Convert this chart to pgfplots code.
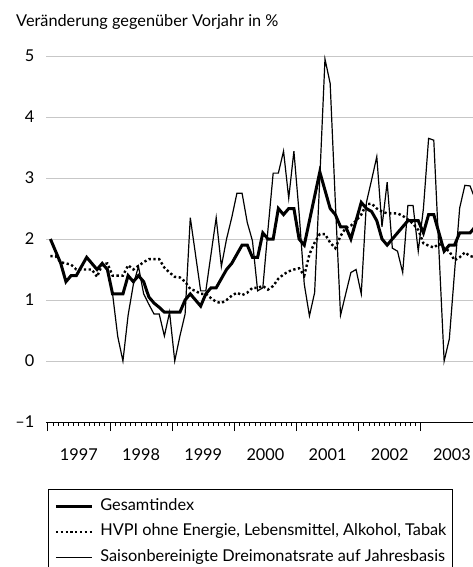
\documentclass[border=0pt]{standalone}
\usepackage{fontspec}
\setmainfont{Lato}
\usepackage{pgfplots}
\usepackage{pgfplotstable}
\pgfplotsset{compat=1.18}
\newcommand{\chartfont}{\fontsize{16.3bp}{19bp}\selectfont}

\pgfplotstableread{
i ges core saison
0 2.0 1.72 nan
1 1.8 1.72 nan
2 1.6 1.62 nan
3 1.3 1.60 nan
4 1.4 1.58 nan
5 1.4 1.50 nan
6 1.55 1.50 nan
7 1.7 1.50 nan
8 1.6 1.50 nan
9 1.5 1.38 nan
10 1.6 1.58 nan
11 1.5 1.60 nan
12 1.1 1.40 1.1
13 1.1 1.40 0.4
14 1.1 1.40 0.0
15 1.4 1.57 0.75
16 1.3 1.50 1.25
17 1.4 1.56 1.55
18 1.3 1.62 1.1
19 1.05 1.67 0.93
20 0.95 1.67 0.77
21 0.88 1.67 0.77
22 0.8 1.53 0.41
23 0.8 1.45 0.8
24 0.8 1.38 0.0
25 0.8 1.37 0.41
26 1.0 1.30 0.77
27 1.1 1.18 2.35
28 1.0 1.15 1.75
29 0.9 1.10 1.15
30 1.1 1.10 1.15
31 1.2 1.03 1.75
32 1.2 0.97 2.35
33 1.35 0.95 1.55
34 1.5 1.00 2.0
35 1.6 1.07 2.35
36 1.75 1.12 2.75
37 1.9 1.08 2.75
38 1.9 1.12 2.27
39 1.7 1.20 1.97
40 1.7 1.20 1.15
41 2.1 1.23 1.2
42 2.0 1.17 2.16
43 2.0 1.23 3.08
44 2.5 1.35 3.08
45 2.4 1.42 3.44
46 2.5 1.47 2.67
47 2.5 1.50 3.44
48 2.0 1.52 2.43
49 1.9 1.40 1.26
50 2.3 1.75 0.74
51 2.7 1.94 1.12
52 3.1 2.08 3.0
53 2.8 2.08 4.95
54 2.5 1.94 4.55
55 2.4 1.85 2.6
56 2.2 2.05 0.75
57 2.2 2.18 1.1
58 2.0 2.22 1.45
59 2.3 2.30 1.5
60 2.6 2.40 1.1
61 2.5 2.57 2.6
62 2.45 2.58 2.97
63 2.3 2.50 3.35
64 2.0 2.45 2.2
65 1.9 2.42 2.93
66 2.0 2.42 1.85
67 2.1 2.42 1.8
68 2.2 2.38 1.45
69 2.3 2.32 2.55
70 2.3 2.25 2.55
71 2.3 2.15 1.8
72 2.1 1.93 2.5
73 2.4 1.89 3.65
74 2.4 1.86 3.62
75 2.1 1.92 1.8
76 1.8 1.85 0.0
77 1.9 1.80 0.36
78 1.9 1.65 1.45
79 2.1 1.70 2.51
80 2.1 1.78 2.88
81 2.1 1.72 2.87
82 2.2 1.70 2.65
}\datatable

\begin{document}
\chartfont
\begin{tikzpicture}
\path[use as bounding box] (-46bp,-145bp) rectangle (427bp,422bp);
\begin{axis}[
  at={(0,0)}, anchor=south west,
  scale only axis, width=427bp, height=372.1bp,
  xmin=-0.85, xmax=81.57, ymin=-1, ymax=5.1,
  clip=true,
  axis x line*=bottom, axis y line*=left,
  y axis line style={draw=none},
  x axis line style={line width=0.9bp},
  ytick={-1,0,1,2,3,4,5}, yticklabels={–1,0,1,2,3,4,5},
  ytick style={draw=none},
  ymajorgrids, grid style={draw=black!22, line width=0.9bp},
  xtick={-0.5,11.5,23.5,35.5,47.5,59.5,71.5},
  xticklabels={},
  minor x tick num=11,
  tick align=outside,
  major tick length=9bp, minor tick length=3.5bp,
  xtick style={black, line width=0.8bp},
  extra x ticks={5.5,17.5,29.5,41.5,53.5,65.5,77.5},
  extra x tick labels={1997,1998,1999,2000,2001,2002,2003},
  extra x tick style={major tick length=0bp, xticklabel style={yshift=-21bp}},
  every tick label/.append style={font=\chartfont, text=black},
  yticklabel style={xshift=3bp},
  /pgf/number format/assume math mode=true,
  legend style={at={(axis description cs:0.0047,-0.18)}, anchor=north west,
    draw=black, line width=0.8bp, font=\chartfont,
    inner xsep=6bp, inner ysep=9bp,
    nodes={inner xsep=0bp, inner ysep=0bp, text height=12bp, text depth=4bp},
    row sep=9.5bp, column sep=7bp},
  legend cell align=left,
  legend image code/.code={\draw[#1] (0bp,0bp) -- (36bp,0bp);},
]
\addplot[black, line width=1.2bp, forget plot] table[x=i, y=saison] {\datatable};
\addplot[black, line width=2.4bp, dash pattern=on 2.3bp off 2.5bp, forget plot] table[x=i, y=core] {\datatable};
\addplot[black, line width=3bp] table[x=i, y=ges] {\datatable};
\addlegendentry{Gesamtindex}
\addlegendimage{black, line width=2.4bp, dash pattern=on 2.3bp off 2.5bp}
\addlegendentry{HVPI ohne Energie, Lebensmittel, Alkohol, Tabak}
\addlegendimage{black, line width=1.2bp}
\addlegendentry{Saisonbereinigte Dreimonatsrate auf Jahresbasis}
\end{axis}
\node[anchor=base west, inner sep=0pt, font=\chartfont] at (-30bp,395bp) {Veränderung gegenüber Vorjahr in \%};
\end{tikzpicture}
\end{document}
